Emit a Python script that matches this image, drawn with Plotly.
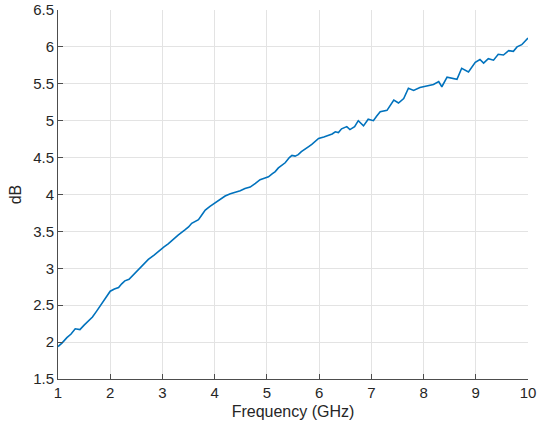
import plotly.graph_objects as go

freq_ghz = [1.00, 1.08, 1.17, 1.25, 1.33, 1.42, 1.50, 1.58, 1.66, 1.74, 1.82, 1.90,
            2.00, 2.08, 2.16, 2.22, 2.28, 2.36, 2.44, 2.54, 2.63, 2.73, 2.84, 2.95,
            3.03, 3.11, 3.20, 3.30, 3.43, 3.50, 3.56, 3.69, 3.76, 3.82, 3.91, 3.99,
            4.10, 4.20, 4.30, 4.40, 4.49, 4.58, 4.68, 4.78, 4.87, 4.95, 5.03, 5.10,
            5.16, 5.22, 5.29, 5.35, 5.43, 5.48, 5.54, 5.60, 5.66, 5.73, 5.80, 5.86,
            5.93, 5.99, 6.09, 6.18, 6.25, 6.31, 6.37, 6.43, 6.53, 6.59, 6.68, 6.75,
            6.85, 6.94, 7.04, 7.10, 7.17, 7.30, 7.36, 7.43, 7.52, 7.62, 7.71, 7.81,
            7.93, 8.06, 8.19, 8.29, 8.35, 8.45, 8.57, 8.64, 8.73, 8.86, 8.99, 9.08,
            9.15, 9.24, 9.34, 9.43, 9.53, 9.63, 9.72, 9.79, 9.88, 10.00]

loss_db = [1.94, 1.99, 2.06, 2.11, 2.18, 2.17, 2.23, 2.28, 2.34, 2.42, 2.50, 2.58,
           2.69, 2.72, 2.74, 2.79, 2.83, 2.85, 2.91, 2.98, 3.05, 3.12, 3.18, 3.25,
           3.29, 3.33, 3.39, 3.45, 3.52, 3.56, 3.61, 3.66, 3.73, 3.79, 3.84, 3.88,
           3.94, 3.98, 4.01, 4.03, 4.05, 4.08, 4.10, 4.15, 4.20, 4.22, 4.24, 4.28,
           4.31, 4.36, 4.40, 4.43, 4.50, 4.53, 4.52, 4.54, 4.58, 4.62, 4.65, 4.68,
           4.73, 4.76, 4.78, 4.80, 4.82, 4.85, 4.84, 4.89, 4.92, 4.88, 4.92, 5.00,
           4.93, 5.02, 5.00, 5.06, 5.12, 5.14, 5.20, 5.28, 5.24, 5.30, 5.44, 5.41,
           5.45, 5.47, 5.49, 5.53, 5.46, 5.59, 5.57, 5.56, 5.71, 5.66, 5.79, 5.83,
           5.78, 5.84, 5.82, 5.90, 5.89, 5.95, 5.94, 6.00, 6.03, 6.12]

x_ticks = [1, 2, 3, 4, 5, 6, 7, 8, 9, 10]
y_ticks = [1.5, 2, 2.5, 3, 3.5, 4, 4.5, 5, 5.5, 6, 6.5]
y_tick_text = ["1.5", "2", "2.5", "3", "3.5", "4", "4.5", "5", "5.5", "6", "6.5"]

fig = go.Figure()
fig.add_trace(go.Scatter(x=freq_ghz, y=loss_db, mode="lines",
                         line=dict(color="#0072BD", width=1.6)))

axis_common = dict(showgrid=True, gridcolor="#e3e3e3", gridwidth=1,
                   showline=True, linecolor="#4d4d4d", linewidth=1,
                   ticks="inside", ticklen=5, tickcolor="#4d4d4d",
                   tickfont=dict(family="Liberation Sans, Arial", size=15, color="#262626"),
                   zeroline=False, mirror=False, automargin=False)

fig.update_xaxes(range=[1, 10], tickvals=x_ticks, **axis_common,
                 title=dict(text="Frequency (GHz)", standoff=5,
                            font=dict(family="Liberation Sans, Arial", size=16, color="#262626")))
fig.update_yaxes(range=[1.5, 6.5], tickvals=y_ticks, ticktext=y_tick_text, **axis_common,
                 title=dict(text="dB", standoff=7,
                            font=dict(family="Liberation Sans, Arial", size=16, color="#262626")))

fig.update_layout(width=542, height=430, margin=dict(l=58, r=14, t=10, b=51),
                  plot_bgcolor="white", paper_bgcolor="white", showlegend=False)

fig.write_html("out.html")
